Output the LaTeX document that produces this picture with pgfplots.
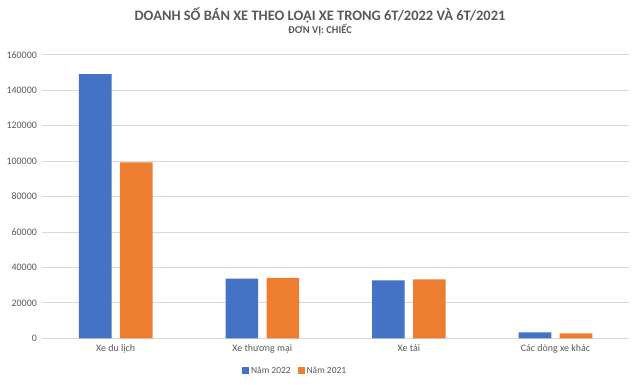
\documentclass[border=0pt]{standalone}
\usepackage{fontspec}
\setmainfont{Carlito}
\usepackage{pgfplots}
\pgfplotsset{compat=1.18}
\definecolor{cblue}{HTML}{4472C4}
\definecolor{corange}{HTML}{ED7D31}
\definecolor{cgrid}{HTML}{D9D9D9}
\definecolor{ctext}{HTML}{595959}
\begin{document}
\begin{tikzpicture}
\path[use as bounding box] (-42.4bp,-46.7bp) rectangle (597.6bp,338.3bp);
\begin{axis}[
  at={(0,0)}, anchor=south west,
  scale only axis, width=586.4bp, height=283.6bp,
  xmin=-0.5, xmax=3.5, ymin=0, ymax=160000,
  ytick={0,20000,...,160000},
  xtick={0,1,2,3},
  xticklabels={Xe du lịch, Xe thương mại, Xe tải, Các dòng xe khác},
  scaled y ticks=false,
  /pgf/number format/assume math mode=true,
  yticklabel style={/pgf/number format/fixed, /pgf/number format/1000 sep={}, font=\fontsize{10}{12}\selectfont, text=ctext},
  xticklabel style={font=\fontsize{10}{12}\selectfont, text=ctext},
  ymajorgrids, grid style={cgrid, line width=0.75bp},
  axis y line*=left, y axis line style={draw=none},
  axis x line*=bottom, x axis line style={cgrid, line width=0.75bp, -},
  major tick length=0pt,
  ytick style={draw=none}, xtick style={draw=none},
  yticklabel style={xshift=-2bp},
  xticklabel style={yshift=-3bp},
  ybar, bar width=32.6bp,
  legend style={at={(0.431,-0.114)}, anchor=center, draw=none, legend columns=2,
    font=\fontsize{9.5}{11}\selectfont, text=ctext,
    /tikz/every even column/.append style={column sep=5bp}},
  legend image code/.code={\fill[#1] (0bp,-3.5bp) rectangle (7bp,3.5bp);},
]
\addplot[fill=cblue, draw=none, bar shift=-20.5bp] coordinates {(0,149000) (1,33600) (2,32700) (3,3400)};
\addplot[fill=corange, draw=none, bar shift=20.5bp] coordinates {(0,99300) (1,34100) (2,33200) (3,2800)};
\legend{Năm 2022, Năm 2021}
\end{axis}
\node[text=ctext, font=\fontsize{14.5}{17}\selectfont\bfseries] at (277.6bp,323bp) {DOANH SỐ BÁN XE THEO LOẠI XE TRONG 6T/2022 VÀ 6T/2021};
\node[text=ctext, font=\fontsize{10.5}{12}\selectfont\bfseries] at (277.6bp,309bp) {ĐƠN VỊ: CHIẾC};
\end{tikzpicture}
\end{document}
